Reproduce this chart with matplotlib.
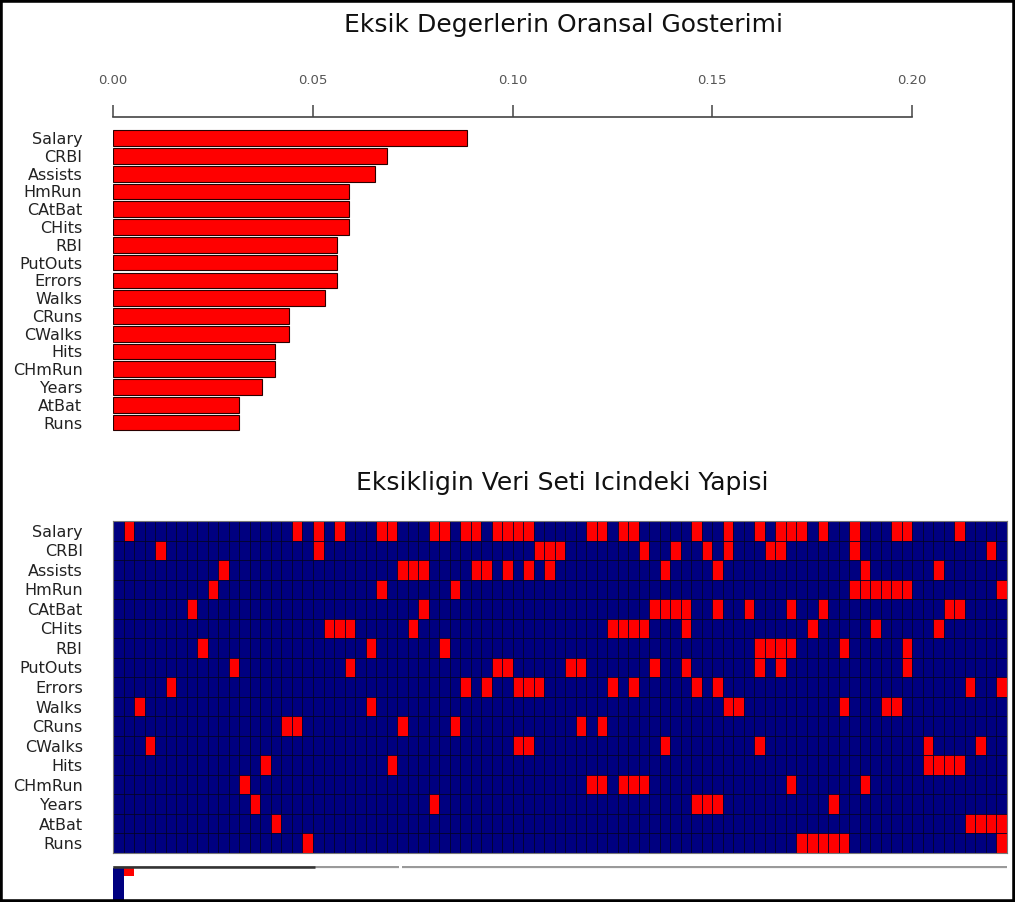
import numpy as np
import matplotlib
matplotlib.use("Agg")
import matplotlib.pyplot as plt
from matplotlib.colors import ListedColormap
from matplotlib.patches import Rectangle

plt.rcParams['font.family'] = ['DejaVu Sans']

# ---------------- data ----------------
variables = ["Salary", "CRBI", "Assists", "HmRun", "CAtBat", "CHits", "RBI",
             "PutOuts", "Errors", "Walks", "CRuns", "CWalks", "Hits", "CHmRun",
             "Years", "AtBat", "Runs"]
missing_prop = [0.0885, 0.0687, 0.0656, 0.0591, 0.0591, 0.0591, 0.0561, 0.0561,
                0.0561, 0.0531, 0.0440, 0.0440, 0.0406, 0.0406, 0.0373, 0.0315,
                0.0315]
prop_ticks = [0.00, 0.05, 0.10, 0.15, 0.20]
n_obs_cols = 85
missing_cols = {
    "Salary":  [1, 17, 19, 21, 25, 26, 30, 31, 33, 34, 36, 37, 38, 39, 45, 46,
                48, 49, 55, 58, 61, 63, 64, 65, 67, 70, 74, 75, 80],
    "CRBI":    [4, 19, 40, 41, 42, 50, 53, 56, 58, 62, 63, 70, 83],
    "Assists": [10, 27, 28, 29, 34, 35, 37, 39, 41, 52, 57, 71, 78],
    "HmRun":   [9, 25, 32, 70, 71, 72, 73, 74, 75, 84],
    "CAtBat":  [7, 29, 51, 52, 53, 54, 57, 60, 64, 67, 79, 80],
    "CHits":   [20, 21, 22, 28, 47, 48, 49, 50, 54, 66, 72, 78],
    "RBI":     [8, 24, 31, 61, 62, 63, 64, 69, 75],
    "PutOuts": [11, 22, 36, 37, 43, 44, 51, 54, 61, 63, 75],
    "Errors":  [5, 33, 35, 38, 39, 40, 47, 49, 55, 57, 81, 84],
    "Walks":   [2, 24, 58, 59, 69, 73, 74],
    "CRuns":   [16, 17, 27, 32, 44, 46],
    "CWalks":  [3, 38, 39, 52, 61, 77, 82],
    "Hits":    [14, 26, 77, 78, 79, 80],
    "CHmRun":  [12, 45, 46, 48, 49, 50, 64, 71],
    "Years":   [13, 30, 55, 56, 57, 68],
    "AtBat":   [15, 81, 82, 83, 84],
    "Runs":    [18, 65, 66, 67, 68, 69, 84],
}
# truncated strip under the matrix
strip_bar_x = [0, 1]
strip_bar_h = [1.0, 0.28]
strip_bar_colors = ["#000080", "#FF0000"]
strip_light_segments = [(0, 27.2), (27.5, 85)]
strip_dark_segment = (0, 19.2)

title1 = "Eksik Degerlerin Oransal Gosterimi"
title2 = "Eksikligin Veri Seti Icindeki Yapisi"

# ---------------- layout helpers ----------------
W, H = 1015, 902
fig = plt.figure(figsize=(W / 100, H / 100), dpi=100)
fig.patch.set_facecolor("white")


def rect(x0, y0, x1, y1):
    return [x0 / W, 1 - y1 / H, (x1 - x0) / W, (y1 - y0) / H]


# ---------------- bar chart ----------------
ax1 = fig.add_axes(rect(113, 117, 912, 437))
ypos = np.arange(len(variables))
ax1.barh(ypos, missing_prop, height=0.88, color="#FF0000",
         edgecolor="#2a0000", linewidth=0.8)
ax1.set_xlim(0, 0.2)
ax1.set_ylim(16.81, -1.19)
for s in ["bottom", "left", "right"]:
    ax1.spines[s].set_visible(False)
ax1.spines["top"].set_color("#444444")
ax1.spines["top"].set_linewidth(1.2)
ax1.xaxis.tick_top()
ax1.set_xticks(prop_ticks)
ax1.set_xticklabels([f"{t:.2f}" for t in prop_ticks])
ax1.tick_params(axis="x", direction="out", length=8.6, width=1.1,
                color="#444444", labelcolor="#555555", labelsize=9.5, pad=13)
ax1.set_yticks(ypos)
ax1.set_yticklabels(variables)
ax1.tick_params(axis="y", length=0, pad=22, labelsize=11.5, labelcolor="#222222")

# ---------------- missingness matrix ----------------
M = np.zeros((len(variables), n_obs_cols))
for i, v in enumerate(variables):
    for c in missing_cols[v]:
        M[i, c] = 1
ax2 = fig.add_axes(rect(113.3, 521, 1006.7, 853))
ax2.pcolormesh(np.arange(n_obs_cols + 1), np.arange(len(variables) + 1), M,
               cmap=ListedColormap(["#000080", "#FF0000"]), vmin=0, vmax=1,
               edgecolors="#000028", linewidth=0.55, antialiased=True)
ax2.set_xlim(0, n_obs_cols)
ax2.set_ylim(len(variables), 0)
ax2.set_xticks([])
ax2.set_yticks(ypos + 0.5)
ax2.set_yticklabels(variables)
ax2.tick_params(axis="y", length=0, pad=22, labelsize=11.5, labelcolor="#222222")
for s in ax2.spines.values():
    s.set_color("#777777")
    s.set_linewidth(0.8)

# ---------------- truncated strip ----------------
ax3 = fig.add_axes(rect(113.3, 866, 1006.7, 902))
ax3.set_xlim(0, n_obs_cols)
ax3.set_ylim(1, 0)
for a, b in strip_light_segments:
    ax3.plot([a, b], [0.03, 0.03], color="#9a9a9a", lw=1.6, solid_capstyle="butt")
ax3.plot(list(strip_dark_segment), [0.03, 0.03], color="#333333", lw=1.8,
         solid_capstyle="butt")
ax3.bar(strip_bar_x, strip_bar_h, width=1.0, align="edge", color=strip_bar_colors,
        edgecolor="none")
ax3.axis("off")

# ---------------- titles ----------------
fig.text(563 / W, 1 - 25 / H, title1, ha="center", va="center", fontsize=18,
         color="#111111")
fig.text(562 / W, 1 - 483 / H, title2, ha="center", va="center", fontsize=18,
         color="#111111")

# ---------------- frame ----------------
fig.patches.append(Rectangle((0, 0), 1, 1, transform=fig.transFigure, fill=False,
                             edgecolor="black", linewidth=4))

fig.savefig("out.png", dpi=100)
